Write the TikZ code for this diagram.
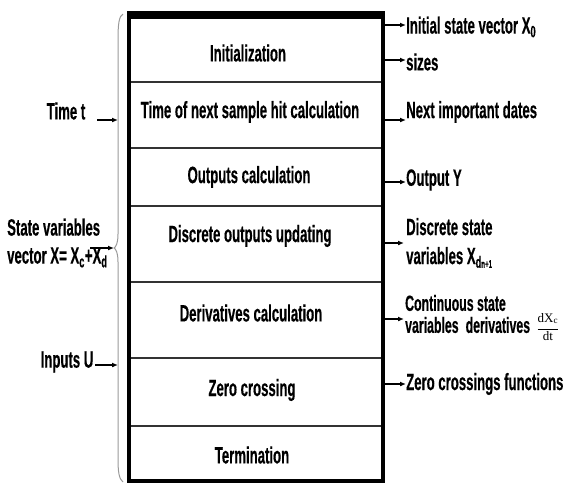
\documentclass[tikz,border=0pt]{standalone}
\usepackage{fontspec}
\setmainfont{Liberation Sans}[FakeStretch=0.56, BoldFeatures={FakeBold=0.4}]
\newfontfamily\serf{Liberation Serif}
\usetikzlibrary{arrows.meta}
\begin{document}
\begin{tikzpicture}[x=1pt,y=-1pt,
  lbl/.style={font=\bfseries\fontsize{23.5}{27}\selectfont, inner sep=0pt},
  sect/.style={lbl, anchor=center},
  arr/.style={line width=1.5pt, -{Latex[length=6pt,width=5pt]}},
  divider/.style={line width=1.2pt, draw=black!80},
  bracestyle/.style={line width=1pt, draw=black!40}]
\useasboundingbox (0,0) rectangle (563,483);

% dividers
\foreach \yy in {82,148,206,282,358,426} \draw[divider] (130,\yy) -- (382,\yy);

% outer box
\node[draw, line width=4pt, minimum width=254pt, minimum height=468pt, inner sep=0pt] (box) at (256,247) {};
\fill (127,11) rectangle (385,19);

% section texts
\node[sect] (s1) at (248,53) {Initialization};
\node[sect] (s2) at (250,112) {Time of next sample hit calculation};
\node[sect] (s3) at (249,177) {Outputs calculation};
\node[sect] (s4) at (250,236) {Discrete outputs updating};
\node[sect] (s5) at (251,313) {Derivatives calculation};
\node[sect] (s6) at (252,390) {Zero crossing};
\node[sect] (s7) at (252,455) {Termination};

% brace
\draw[bracestyle] (123,14) .. controls (119,16) and (118,24) .. (118,40) -- (118,234)
  .. controls (118,243) and (116,247) .. (114,248)
  .. controls (116,249) and (118,253) .. (118,262) -- (118,458)
  .. controls (118,472) and (119,479) .. (123,482);
\coordinate (tip) at (114,248);

% right labels
\node[lbl, anchor=west] (r1) at (406,27) {Initial state vector X\textsubscript{0}};
\node[lbl, anchor=west] (r2) at (406,62) {sizes};
\node[lbl, anchor=west] (r3) at (406,112) {Next important dates};
\node[lbl, anchor=west] (r4) at (406,180) {Output Y};
\node[lbl, anchor=west, align=left] (r5) at (406,243) {Discrete state\\[2pt]variables X\textsubscript{d{\fontsize{11}{11}\selectfont n+1}}};
\node[lbl, anchor=west, align=left, font=\bfseries\fontsize{22}{25}\selectfont] (r6) at (405,314) {Continuous state\\[-3pt]variables \,derivatives};
\node[inner sep=0pt, anchor=west] (frac) at ([xshift=6pt]r6.east |- 0,327) {$\displaystyle\frac{\hbox{\raisebox{2.5pt}{\serf\fontsize{13}{13}\selectfont dX\textsubscript{c}}}}{\hbox{\raisebox{-2.5pt}{\serf\fontsize{13}{13}\selectfont dt}}}$};
\node[lbl, anchor=west] (r7) at (406,384) {Zero crossings functions};

\coordinate (o1) at (385,25);
\coordinate (o2) at (385,60);
\coordinate (o3) at (385,120);
\coordinate (o4) at (385,182);
\coordinate (o5) at (385,243);
\coordinate (o6) at (385,319);
\coordinate (o7) at (385,384);
\draw[arr] (o1) -- (r1.west |- o1);
\draw[arr] (o2) -- (r2.west |- o2);
\draw[arr] (o3) -- (r3.west |- o3);
\draw[arr] (o4) -- (r4.west |- o4);
\draw[arr] (o5) -- ([xshift=-2pt]r5.west |- o5);
\draw[arr] (o6) -- ([xshift=-1pt]r6.west |- o6);
\draw[arr] (o7) -- (r7.west |- o7);

% left labels
\node[lbl] (l1) at (66,111) {Time t};
\node[lbl, align=left, anchor=west] (l2) at (7,243) {State variables\\[1pt]vector X= X\textsubscript{c}+X\textsubscript{d}};
\node[lbl] (l3) at (67,362) {Inputs U};
\coordinate (tin) at (118,120);
\coordinate (tout) at (97,120);
\coordinate (uin) at (118,365);
\coordinate (uout) at (95,365);
\coordinate (xs) at (90,248);
\draw[arr] (tout) -- (tin);
\draw[arr] (uout) -- (uin);
\draw[arr] (xs) -- (tip);
\end{tikzpicture}
\end{document}
